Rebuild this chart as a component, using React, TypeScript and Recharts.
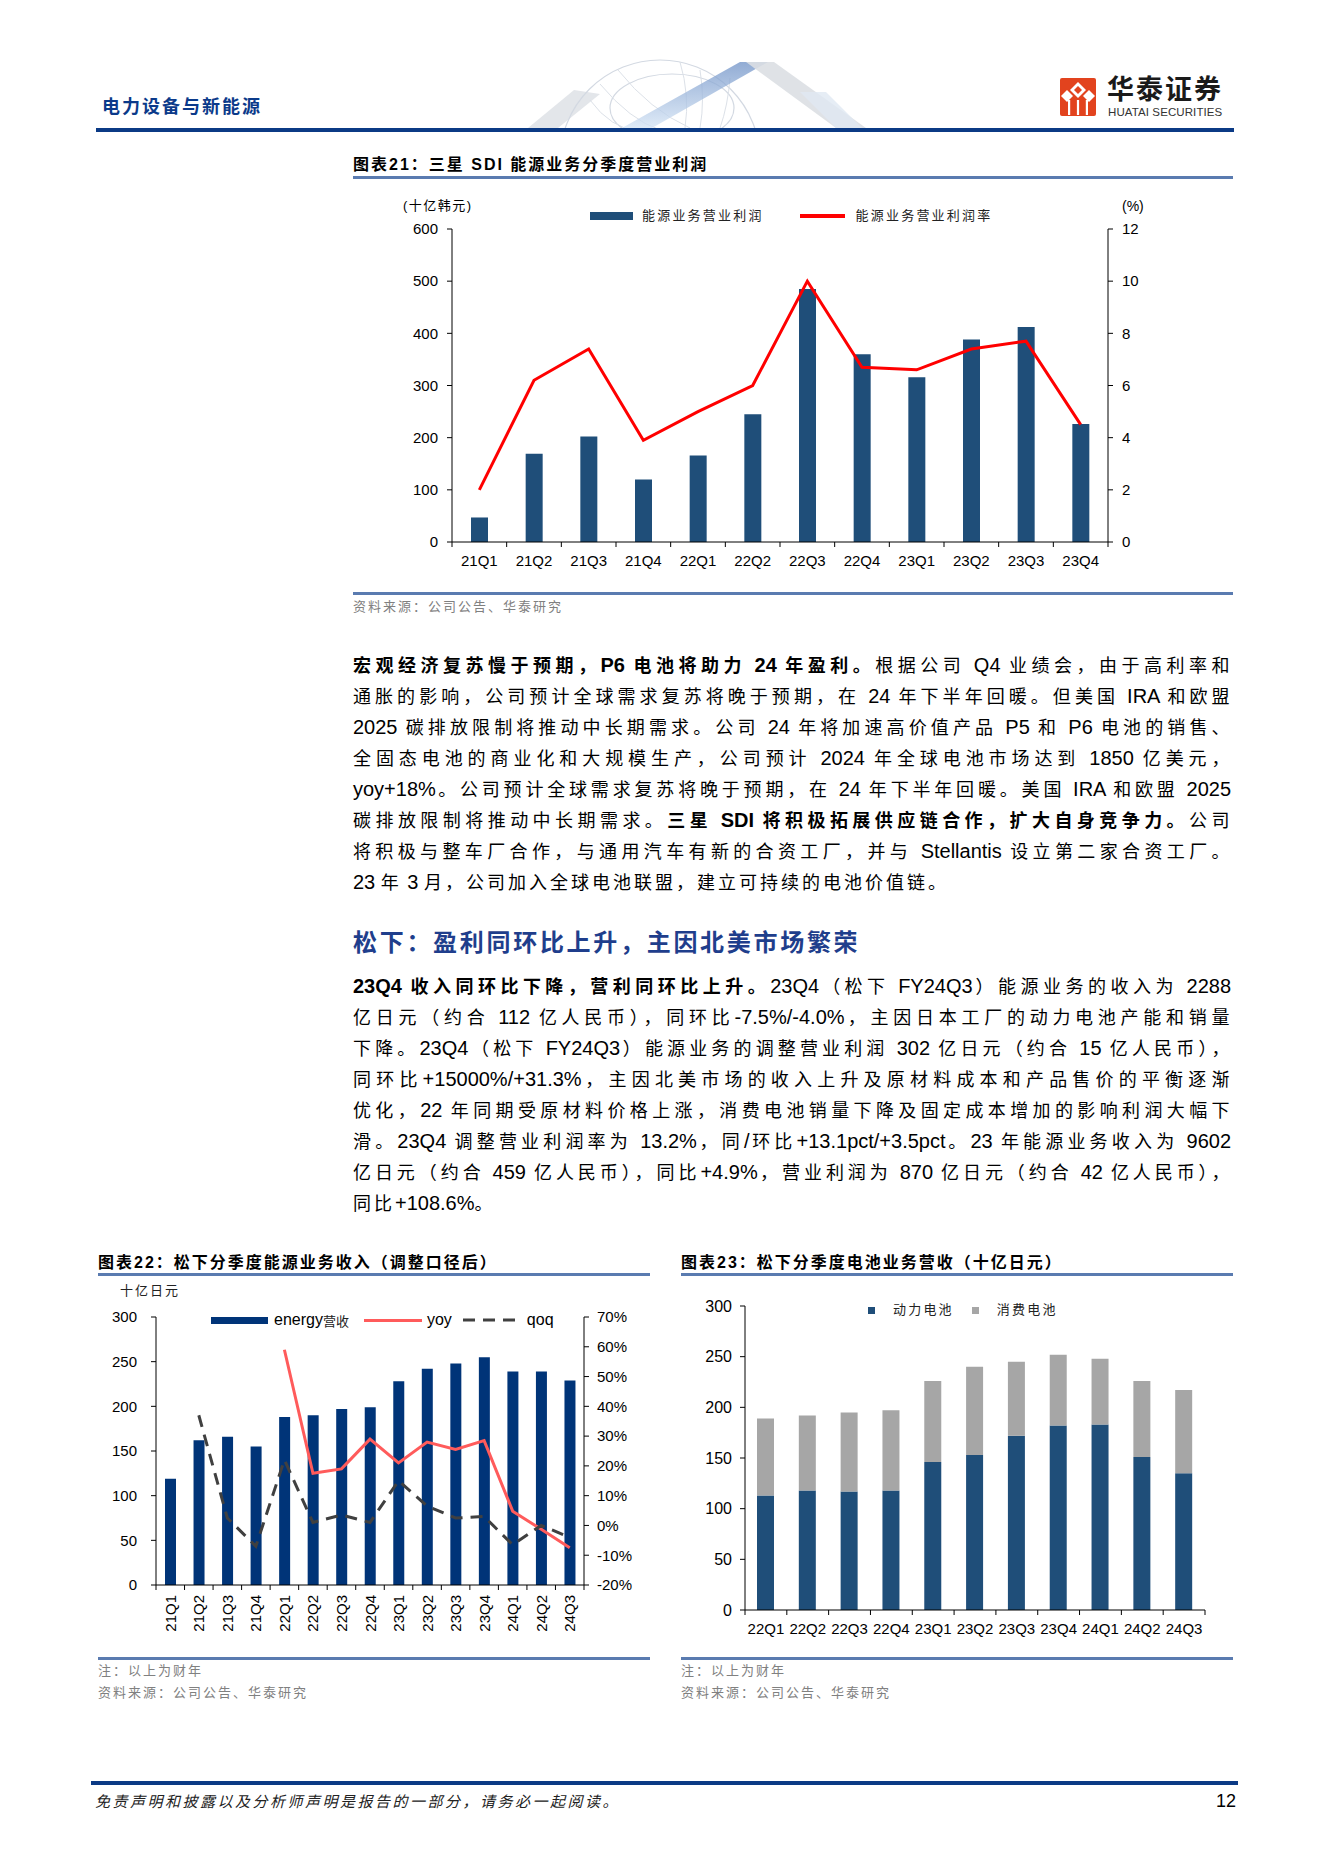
import React from 'react';
import { ComposedChart, BarChart, Bar, Line, XAxis, YAxis } from 'recharts';

const LATIN = "'Liberation Sans', Arial, sans-serif";
const CJK = "'Liberation Sans', 'Noto Sans CJK SC', sans-serif";

// 图表21 三星 SDI
const sdiQuarters = ['21Q1', '21Q2', '21Q3', '21Q4', '22Q1', '22Q2', '22Q3', '22Q4', '23Q1', '23Q2', '23Q3', '23Q4'];
const sdiProfit = [47, 169, 202, 120, 166, 245, 485, 360, 316, 388, 412, 226];
const sdiMargin = [2.0, 6.2, 7.4, 3.9, 5.0, 6.0, 10.0, 6.7, 6.6, 7.4, 7.7, 4.5];
const sdiLeftTicks = [0, 100, 200, 300, 400, 500, 600];
const sdiRightTicks = [0, 2, 4, 6, 8, 10, 12];

// 图表22 松下能源业务收入
const panaQuarters = ['21Q1', '21Q2', '21Q3', '21Q4', '22Q1', '22Q2', '22Q3', '22Q4', '23Q1', '23Q2', '23Q3', '23Q4', '24Q1', '24Q2', '24Q3'];
const panaRevenue = [119, 162, 166, 155, 188, 190, 197, 199, 228, 242, 248, 255, 239, 239, 229];
const panaYoy = [null, null, null, null, 59, 17.5, 19, 29, 21, 28, 25.5, 28.5, 4.8, -1.3, -7.5];
const panaQoq = [null, 37, 2.5, -7, 22, 1, 3.5, 1, 15, 6.5, 2.5, 3, -6.5, 0, -4];
const panaLeftTicks = [0, 50, 100, 150, 200, 250, 300];
const panaRightTicks = [-20, -10, 0, 10, 20, 30, 40, 50, 60, 70];

// 图表23 松下电池业务营收
const battQuarters = ['22Q1', '22Q2', '22Q3', '22Q4', '23Q1', '23Q2', '23Q3', '23Q4', '24Q1', '24Q2', '24Q3'];
const battPower = [113, 118, 117, 118, 146, 153, 172, 182, 183, 151, 135];
const battConsumer = [76, 74, 78, 79, 80, 87, 73, 70, 65, 75, 82];
const battTicks = [0, 50, 100, 150, 200, 250, 300];

const para1 = [
  '**宏观经济复苏慢于预期，P6 电池将助力 24 年盈利。**根据公司 Q4 业绩会，由于高利率和',
  '通胀的影响，公司预计全球需求复苏将晚于预期，在 24 年下半年回暖。但美国 IRA 和欧盟',
  '2025 碳排放限制将推动中长期需求。公司 24 年将加速高价值产品 P5 和 P6 电池的销售、',
  '全固态电池的商业化和大规模生产，公司预计 2024 年全球电池市场达到 1850 亿美元，',
  'yoy+18%。公司预计全球需求复苏将晚于预期，在 24 年下半年回暖。美国 IRA 和欧盟 2025',
  '碳排放限制将推动中长期需求。**三星 SDI 将积极拓展供应链合作，扩大自身竞争力。**公司',
  '将积极与整车厂合作，与通用汽车有新的合资工厂，并与 Stellantis 设立第二家合资工厂。',
  '23 年 3 月，公司加入全球电池联盟，建立可持续的电池价值链。',
];

const para2 = [
  '**23Q4 收入同环比下降，营利同环比上升。**23Q4（松下 FY24Q3）能源业务的收入为 2288',
  '亿日元（约合 112 亿人民币），同环比-7.5%/-4.0%，主因日本工厂的动力电池产能和销量',
  '下降。23Q4（松下 FY24Q3）能源业务的调整营业利润 302 亿日元（约合 15 亿人民币），',
  '同环比+15000%/+31.3%，主因北美市场的收入上升及原材料成本和产品售价的平衡逐渐',
  '优化，22 年同期受原材料价格上涨，消费电池销量下降及固定成本增加的影响利润大幅下',
  '滑。23Q4 调整营业利润率为 13.2%，同/环比+13.1pct/+3.5pct。23 年能源业务收入为 9602',
  '亿日元（约合 459 亿人民币），同比+4.9%，营业利润为 870 亿日元（约合 42 亿人民币），',
  '同比+108.6%。',
];

const sdiData = sdiQuarters.map((q, i) => ({ q, profit: sdiProfit[i], margin: sdiMargin[i] }));
const panaData = panaQuarters.map((q, i) => ({ q, rev: panaRevenue[i], yoy: panaYoy[i], qoq: panaQoq[i] }));
const battData = battQuarters.map((q, i) => ({ q, power: battPower[i], consumer: battConsumer[i] }));

// category tick: tick marks sit on band boundaries, label in the middle
function makeCategoryTick(band: number, count: number, rotate = false) {
  return function CategoryTick(props: any) {
    const { x, y, payload, index } = props;
    const left = x - band / 2;
    return (
      <g>
        <line x1={left} x2={left} y1={y} y2={y + 5} stroke="#000" />
        {index === count - 1 && <line x1={x + band / 2} x2={x + band / 2} y1={y} y2={y + 5} stroke="#000" />}
        {rotate ? (
          <text x={x + 5.5} y={y + 10} transform={`rotate(-90 ${x + 5.5} ${y + 10})`} textAnchor="end" fontSize={15} fontFamily={LATIN} fill="#000">
            {payload.value}
          </text>
        ) : (
          <text x={x} y={y + 23.5} textAnchor="middle" fontSize={15} fontFamily={LATIN} fill="#000">
            {payload.value}
          </text>
        )}
      </g>
    );
  };
}

// latin runs are set a little larger than the CJK runs, as in the original layout
function Mixed({ text, spacing }: { text: string; spacing: number }) {
  const parts = text.split(/([\x20-\x7E]+)/);
  return (
    <>
      {parts.map((p, i) => {
        if (!p) return null;
        const latin = /[\x20-\x7E]/.test(p[0]);
        return (
          <span key={i} style={latin ? { fontSize: 20 } : { fontSize: 18, letterSpacing: spacing }}>
            {p}
          </span>
        );
      })}
    </>
  );
}

function ParaLine({ src, last }: { src: string; last: boolean }) {
  const pieces = src.split('**');
  return (
    <div style={{ height: 31, lineHeight: '31px', textAlign: 'justify', textAlignLast: last ? 'left' : 'justify' }}>
      {pieces.map((p, i) =>
        p ? (
          <span key={i} style={{ fontWeight: i % 2 === 1 ? 700 : 400 }}>
            <Mixed text={p} spacing={last ? 3 : 1.5} />
          </span>
        ) : null
      )}
    </div>
  );
}

function Para({ lines, top }: { lines: string[]; top: number }) {
  return (
    <div style={{ position: 'absolute', left: 353, top, width: 878, fontFamily: CJK, color: '#000' }}>
      {lines.map((l, i) => (
        <ParaLine key={i} src={l} last={i === lines.length - 1} />
      ))}
    </div>
  );
}

const abs = (left: number, top: number, extra: React.CSSProperties = {}): React.CSSProperties => ({
  position: 'absolute',
  left,
  top,
  whiteSpace: 'nowrap',
  ...extra,
});

const rule = (left: number, top: number, width: number, height: number, color: string) => (
  <div style={{ position: 'absolute', left, top, width, height, background: color, zIndex: 2 }} />
);

const titleStyle: React.CSSProperties = { fontFamily: CJK, fontSize: 16, fontWeight: 700, letterSpacing: 2, lineHeight: '20px', color: '#000' };
const noteStyle: React.CSSProperties = { fontFamily: CJK, fontSize: 13, letterSpacing: 2, lineHeight: '18px', color: '#808080' };
const legendText: React.CSSProperties = { fontFamily: CJK, fontSize: 13, letterSpacing: 2.2, lineHeight: '16px', color: '#222' };
const axisTick = { fill: '#000', fontSize: 15, fontFamily: LATIN };

function Watermark() {
  return (
    <svg style={{ position: 'absolute', left: 0, top: 0 }} width={1323} height={128}>
      <defs>
        <linearGradient id="wmBlue" x1="0" y1="1" x2="0" y2="0">
          <stop offset="0%" stopColor="#d4e4f5" />
          <stop offset="100%" stopColor="#6d90c6" />
        </linearGradient>
      </defs>
      <polygon points="528,128 558,128 600,94 574,90" fill="#e3e6ea" />
      <circle cx={660} cy={160} r={100} fill="none" stroke="#d3d9e2" strokeWidth={1.2} />
      <ellipse cx={672} cy={108} rx={62} ry={34} fill="none" stroke="#d3d9e2" strokeWidth={1.2} />
      <path d="M590 100 Q610 128 640 132 M600 84 Q630 120 660 130 M618 70 Q650 110 690 128" fill="none" stroke="#dce1e8" strokeWidth={1} />
      <path d="M700 70 Q705 100 700 128 M730 78 Q728 105 720 128 M680 62 Q690 95 685 128" fill="none" stroke="#dce1e8" strokeWidth={1} />
      <polygon points="622,128 652,128 768,62 740,62" fill="url(#wmBlue)" opacity={0.75} />
      <polygon points="746,62 774,62 866,128 836,128" fill="#dcdfe3" opacity={0.9} />
      <polygon points="800,92 826,92 862,128 836,128" fill="#e0e8f3" opacity={0.8} />
    </svg>
  );
}

function Logo() {
  return (
    <>
      <svg style={{ position: 'absolute', left: 1060, top: 78 }} width={36} height={38}>
        <rect x={0} y={0} width={36} height={38} rx={2} fill="#e2431e" />
        <polygon points="18,4 26,12 18,20 10,12" fill="#fff" />
        <polygon points="18,8 22,12 18,16 14,12" fill="#e2431e" />
        <polygon points="7,12 13,18 7,24 1,18" fill="#fff" />
        <polygon points="29,12 35,18 29,24 23,18" fill="#fff" />
        <rect x={8} y={22} width={2.2} height={15} fill="#fff" />
        <rect x={16.9} y={22} width={2.2} height={15} fill="#fff" />
        <rect x={25.8} y={22} width={2.2} height={15} fill="#fff" />
      </svg>
      <div style={abs(1107, 74, { fontFamily: CJK, fontSize: 27, fontWeight: 700, letterSpacing: 2, lineHeight: '32px', color: '#1a1a1a' })}>华泰证券</div>
      <div style={abs(1108, 106, { fontFamily: LATIN, fontSize: 11.5, lineHeight: '13px', color: '#333', letterSpacing: 0.1 })}>HUATAI SECURITIES</div>
    </>
  );
}

function SdiChart() {
  const band = 656 / sdiQuarters.length;
  return (
    <div style={{ position: 'absolute', left: 340, top: 190 }}>
      <ComposedChart width={840} height={400} data={sdiData} margin={{ top: 39, right: 0, bottom: 18, left: 0 }}>
        <XAxis dataKey="q" height={30} interval={0} tickLine={false} tickSize={0} tickMargin={0} axisLine={{ stroke: '#000' }} tick={makeCategoryTick(band, sdiQuarters.length)} />
        <YAxis yAxisId="l" width={112} domain={[0, 600]} ticks={sdiLeftTicks} interval={0} axisLine={{ stroke: '#000' }} tickLine={{ stroke: '#000' }} tickSize={5} tickMargin={9} tick={axisTick} />
        <YAxis yAxisId="r" orientation="right" width={72} domain={[0, 12]} ticks={sdiRightTicks} interval={0} axisLine={{ stroke: '#000' }} tickLine={{ stroke: '#000' }} tickSize={5} tickMargin={9} tick={{ ...axisTick, textAnchor: 'start' }} />
        <Bar yAxisId="l" dataKey="profit" fill="#1f4e79" barSize={17} isAnimationActive={false} />
        <Line yAxisId="r" type="linear" dataKey="margin" stroke="#ff0000" strokeWidth={3} dot={false} activeDot={false} isAnimationActive={false} />
      </ComposedChart>
    </div>
  );
}

function PanaRevenueChart() {
  const band = 428 / panaQuarters.length;
  return (
    <div style={{ position: 'absolute', left: 90, top: 1290 }}>
      <ComposedChart width={560} height={370} data={panaData} margin={{ top: 27, right: 0, bottom: 15, left: 0 }}>
        <XAxis dataKey="q" height={60} interval={0} tickLine={false} tickSize={0} tickMargin={0} axisLine={{ stroke: '#000' }} tick={makeCategoryTick(band, panaQuarters.length, true)} />
        <YAxis yAxisId="l" width={66} domain={[0, 300]} ticks={panaLeftTicks} interval={0} axisLine={{ stroke: '#000' }} tickLine={{ stroke: '#000' }} tickSize={5} tickMargin={14} tick={axisTick} />
        <YAxis yAxisId="r" orientation="right" width={66} domain={[-20, 70]} ticks={panaRightTicks} interval={0} axisLine={{ stroke: '#000' }} tickLine={{ stroke: '#000' }} tickSize={5} tickMargin={8} tickFormatter={(v: number) => `${v}%`} tick={{ ...axisTick, textAnchor: 'start' }} />
        <Bar yAxisId="l" dataKey="rev" fill="#003478" barSize={11} isAnimationActive={false} />
        <Line yAxisId="r" type="linear" dataKey="yoy" stroke="#ff5b5b" strokeWidth={3} dot={false} activeDot={false} isAnimationActive={false} />
        <Line yAxisId="r" type="linear" dataKey="qoq" stroke="#404040" strokeWidth={3} strokeDasharray="12 8" dot={false} activeDot={false} isAnimationActive={false} />
      </ComposedChart>
    </div>
  );
}

function BatteryChart() {
  const band = 460 / battQuarters.length;
  return (
    <div style={{ position: 'absolute', left: 660, top: 1270 }}>
      <BarChart width={580} height={390} data={battData} margin={{ top: 36, right: 35, bottom: 10, left: 0 }}>
        <XAxis dataKey="q" height={40} interval={0} tickLine={false} tickSize={0} tickMargin={0} axisLine={{ stroke: '#000' }} tick={makeCategoryTick(band, battQuarters.length)} />
        <YAxis width={85} domain={[0, 300]} ticks={battTicks} interval={0} axisLine={{ stroke: '#000' }} tickLine={{ stroke: '#000' }} tickSize={5} tickMargin={8} tick={{ ...axisTick, fontSize: 16 }} />
        <Bar dataKey="power" stackId="s" fill="#1f4e79" barSize={17} isAnimationActive={false} />
        <Bar dataKey="consumer" stackId="s" fill="#a6a6a6" barSize={17} isAnimationActive={false} />
      </BarChart>
    </div>
  );
}

export default function App() {
  return (
    <div lang="zh-CN" style={{ position: 'relative', width: 1323, height: 1871, background: '#fff', overflow: 'hidden' }}>
      <style>{'body{margin:0;}'}</style>

      {/* page header */}
      <Watermark />
      <div style={abs(102, 96, { fontFamily: CJK, fontSize: 18, fontWeight: 700, letterSpacing: 2, lineHeight: '22px', color: '#0b3a8a' })}>电力设备与新能源</div>
      <Logo />
      {rule(96, 128, 1138, 4, '#0b3a85')}

      {/* 图表21 */}
      <div style={abs(353, 155, titleStyle)}>图表21：三星 SDI 能源业务分季度营业利润</div>
      {rule(353, 176, 880, 3, '#5a7bb0')}
      <SdiChart />
      <div style={abs(403, 197, { fontFamily: CJK, fontSize: 13, letterSpacing: 1.5, lineHeight: '18px', color: '#000' })}>(十亿韩元)</div>
      <div style={abs(1122, 197, { fontFamily: LATIN, fontSize: 14, lineHeight: '18px', color: '#000' })}>(%)</div>
      <div style={{ position: 'absolute', left: 590, top: 208, display: 'flex', alignItems: 'center', height: 16 }}>
        <div style={{ width: 43, height: 8, background: '#1f4e79', marginRight: 9 }} />
        <span style={legendText}>能源业务营业利润</span>
        <div style={{ width: 45, height: 4, background: '#ff0000', marginLeft: 36, marginRight: 11 }} />
        <span style={legendText}>能源业务营业利润率</span>
      </div>
      {rule(353, 592, 880, 3, '#5a7bb0')}
      <div style={abs(353, 598, noteStyle)}>资料来源：公司公告、华泰研究</div>

      {/* 正文 */}
      <Para lines={para1} top={649.5} />
      <div style={abs(353, 927, { fontFamily: CJK, fontSize: 24, fontWeight: 700, letterSpacing: 2.7, lineHeight: '32px', color: '#1f3e8c' })}>松下：盈利同环比上升，主因北美市场繁荣</div>
      <Para lines={para2} top={970.5} />

      {/* 图表22 */}
      <div style={abs(98, 1253, titleStyle)}>图表22：松下分季度能源业务收入（调整口径后）</div>
      {rule(98, 1273, 552, 3, '#5a7bb0')}
      <PanaRevenueChart />
      <div style={abs(120, 1282, { fontFamily: CJK, fontSize: 13, letterSpacing: 2, lineHeight: '18px', color: '#222' })}>十亿日元</div>
      <div style={{ position: 'absolute', left: 211, top: 1311, display: 'flex', alignItems: 'center', height: 18 }}>
        <div style={{ width: 57, height: 7, background: '#003478', marginRight: 6 }} />
        <span style={{ fontFamily: LATIN, fontSize: 16, color: '#000' }}>energy</span>
        <span style={{ fontFamily: CJK, fontSize: 13, color: '#222' }}>营收</span>
        <div style={{ width: 58, height: 3, background: '#ff5b5b', marginLeft: 15, marginRight: 5 }} />
        <span style={{ fontFamily: LATIN, fontSize: 16, color: '#000' }}>yoy</span>
        <svg width={60} height={6} style={{ marginLeft: 11, marginRight: 4 }}>
          <line x1={0} x2={60} y1={3} y2={3} stroke="#404040" strokeWidth={3} strokeDasharray="12 8" />
        </svg>
        <span style={{ fontFamily: LATIN, fontSize: 16, color: '#000' }}>qoq</span>
      </div>
      {rule(98, 1657, 552, 3, '#5a7bb0')}
      <div style={abs(98, 1662, noteStyle)}>注：以上为财年</div>
      <div style={abs(98, 1684, noteStyle)}>资料来源：公司公告、华泰研究</div>

      {/* 图表23 */}
      <div style={abs(681, 1253, titleStyle)}>图表23：松下分季度电池业务营收（十亿日元）</div>
      {rule(681, 1273, 552, 3, '#5a7bb0')}
      <BatteryChart />
      <div style={{ position: 'absolute', left: 868, top: 1302, display: 'flex', alignItems: 'center', height: 16 }}>
        <div style={{ width: 7, height: 7, background: '#1f4e79', marginRight: 18 }} />
        <span style={legendText}>动力电池</span>
        <div style={{ width: 7, height: 7, background: '#a6a6a6', marginLeft: 18, marginRight: 18 }} />
        <span style={legendText}>消费电池</span>
      </div>
      {rule(681, 1657, 552, 3, '#5a7bb0')}
      <div style={abs(681, 1662, noteStyle)}>注：以上为财年</div>
      <div style={abs(681, 1684, noteStyle)}>资料来源：公司公告、华泰研究</div>

      {/* footer */}
      {rule(91, 1781, 1147, 4, '#0b3a85')}
      <div style={abs(95, 1792, { fontFamily: CJK, fontSize: 15, fontStyle: 'italic', letterSpacing: 2.5, lineHeight: '20px', color: '#222' })}>免责声明和披露以及分析师声明是报告的一部分，请务必一起阅读。</div>
      <div style={abs(1214, 1790, { fontFamily: LATIN, fontSize: 18, lineHeight: '22px', color: '#000', width: 22, textAlign: 'right' })}>12</div>
    </div>
  );
}
